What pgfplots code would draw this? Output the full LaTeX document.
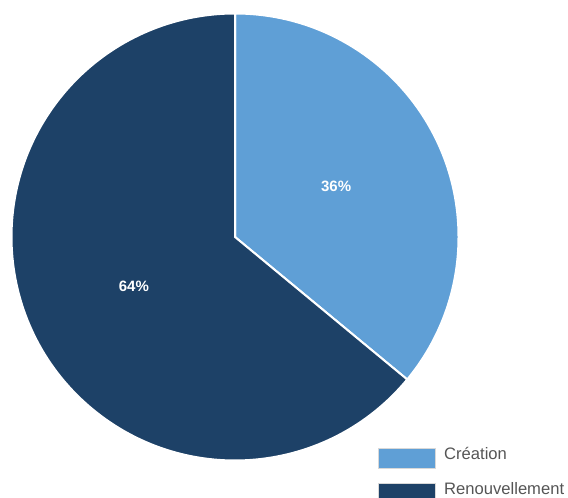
\documentclass[border=0pt]{standalone}
\usepackage{pgfplots}
\pgfplotsset{compat=1.18}
\usepackage{pgfplotstable}
\usepackage{fontspec}
\setmainfont{Liberation Sans}
\definecolor{creation}{HTML}{5F9FD6}
\definecolor{renouv}{HTML}{1D4167}
\definecolor{legtext}{HTML}{555555}
\definecolor{legborder}{HTML}{D8D8D8}

% share of each kind (percent)
\pgfplotstableread{
part value
Creation 36
Renouvellement 64
}\parts

\begin{document}
\begin{tikzpicture}
\useasboundingbox (0,0) rectangle (284pt,249pt);
\pgfplotstablegetelem{0}{value}\of\parts \let\va\pgfplotsretval
\pgfplotstablegetelem{1}{value}\of\parts \let\vb\pgfplotsretval
\pgfmathsetmacro{\aend}{90-3.6*\va}
\pgfmathsetmacro{\amida}{90-1.8*\va}
\pgfmathsetmacro{\amidb}{\aend-1.8*\vb}
\begin{axis}[
  x=111.75pt, y=111.75pt,
  xmin=-1.0515, xmax=1.4899, ymin=-1.1678, ymax=1.0604,
  hide axis, clip=false,
  legend cell align=left,
  legend image code/.code={\draw[#1] (0pt,-6.5pt) rectangle (28.5pt,3.5pt);},
  legend style={
    at={(axis cs:0.6398,-0.9396)}, anchor=north west,
    draw=none, fill=none, inner sep=0pt, row sep=7pt, column sep=4pt,
    font=\fontsize{8.3}{10}\selectfont, text=legtext,
    nodes={inner sep=0pt}
  },
]
\addlegendimage{fill=creation, draw=legborder}
\addlegendentry{Création}
\addlegendimage{fill=renouv, draw=legborder}
\addlegendentry{Renouvellement}

\filldraw[fill=creation, draw=white, line width=1pt]
  (axis cs:0,0) -- (axis cs:0,1) arc[start angle=90, end angle=\aend, radius=111.75pt] -- cycle;
\filldraw[fill=renouv, draw=white, line width=1pt]
  (axis cs:0,0) -- ({axis cs:{cos(\aend)},{sin(\aend)}}) arc[start angle=\aend, end angle=-270, radius=111.75pt] -- cycle;

\node[white, font=\bfseries\fontsize{7.5}{9}\selectfont]
  at ({axis cs:{0.5*cos(\amida)},{0.5*sin(\amida)+0.015}}) {\va\%};
\node[white, font=\bfseries\fontsize{7.5}{9}\selectfont]
  at ({axis cs:{0.5*cos(\amidb)},{0.5*sin(\amidb)-0.008}}) {\vb\%};
\end{axis}
\end{tikzpicture}
\end{document}
